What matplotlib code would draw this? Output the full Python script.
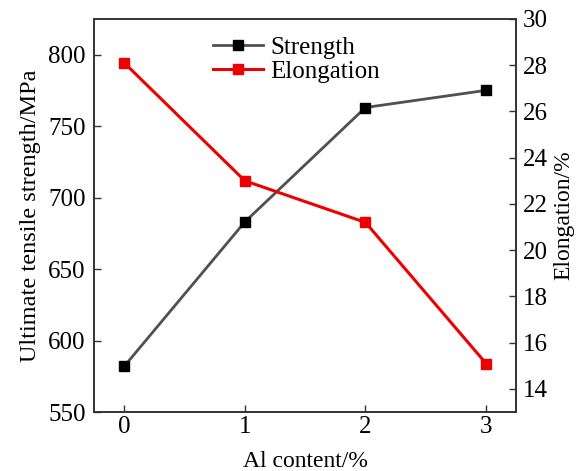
import matplotlib.pyplot as plt

al_content = [0, 1, 2, 3]
strength = [582, 683, 763, 775]
elongation = [28.1, 23.0, 21.2, 15.1]

plt.rcParams['font.family'] = ['Liberation Serif', 'DejaVu Serif']
plt.rcParams['font.size'] = 18

fig, ax = plt.subplots(figsize=(5.84, 4.71), dpi=100)
fig.subplots_adjust(left=0.161, right=0.884, top=0.96, bottom=0.125)

ax2 = ax.twinx()

l1, = ax.plot(al_content, strength, color='#505050', lw=2,
              marker='s', ms=6.5, mfc='black', mec='black', label='Strength')
l2, = ax2.plot(al_content, elongation, color='#ee0000', lw=2.2,
               marker='s', ms=6.5, mfc='#ee0000', mec='#ee0000', label='Elongation')

ax.set_xlim(-0.25, 3.25)
ax.set_ylim(550, 825)
ax2.set_ylim(13, 30)
ax.set_xticks(al_content)
ax.set_yticks([550, 600, 650, 700, 750, 800])
ax2.set_yticks(range(14, 31, 2))

ax.set_xlabel('Al content/%', fontsize=17, labelpad=9)
ax.set_ylabel('Ultimate tensile strength/MPa', fontsize=17.5, labelpad=5)
ax2.set_ylabel('Elongation/%', fontsize=17, labelpad=4)

for a in (ax, ax2):
    a.tick_params(direction='in', length=5, width=1, color='#333333', labelsize=18)
    for s in a.spines.values():
        s.set_color('#333333')
        s.set_linewidth(1.2)
ax.tick_params(axis='y', pad=6)
ax2.tick_params(axis='y', pad=5)
ax.tick_params(axis='x', pad=3)

ax.legend(handles=[l1, l2], loc='upper center', bbox_to_anchor=(0.48, 1.0),
          frameon=False, handlelength=2.0, handletextpad=0.3,
          labelspacing=0.05, borderaxespad=0.3)

fig.savefig('out.png', dpi=100)
